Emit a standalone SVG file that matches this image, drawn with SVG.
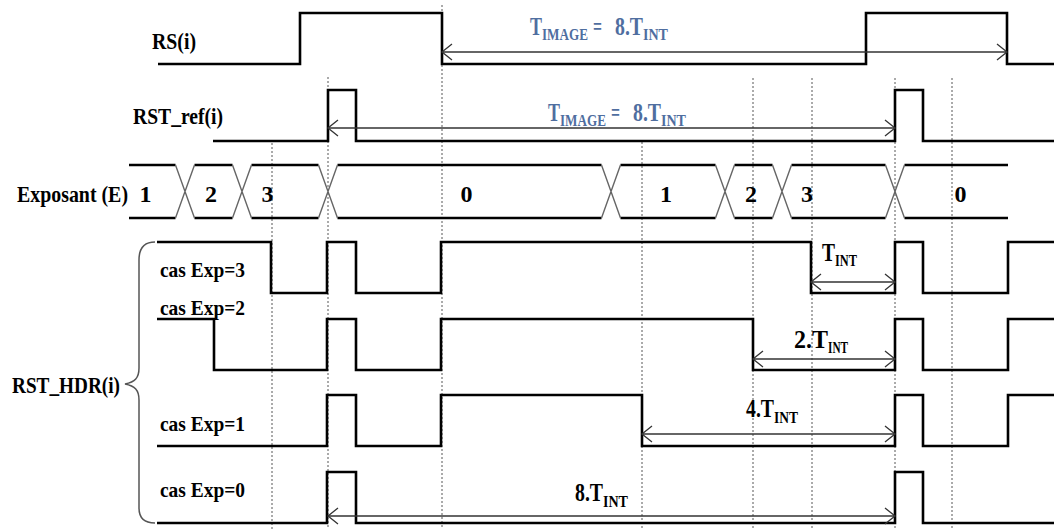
<svg xmlns="http://www.w3.org/2000/svg" width="1054" height="529" viewBox="0 0 1054 529">
<defs>
<style>
.sig{fill:none;stroke:#000;stroke-width:2.6;stroke-linejoin:miter}
.x{fill:none;stroke:#666;stroke-width:1.4}
.dot{fill:none;stroke:#444;stroke-width:0.9;stroke-dasharray:2 2}
.dim{fill:none;stroke:#333;stroke-width:1.3;marker-start:url(#chev);marker-end:url(#chev)}
.brace{fill:none;stroke:#555;stroke-width:1.5}
text{font-family:"Liberation Serif","Times New Roman",serif;font-weight:bold;fill:#000}
.lbl{font-size:24px}
.cas{font-size:22px}
.blue{fill:#4f6ea0;font-size:25px}
.blue .sub{font-size:17px}
.dl{font-size:25px}
.dl .sub{font-size:17px}
</style>
<marker id="chev" viewBox="-12 -10 14 20" refX="0" refY="0" markerWidth="14" markerHeight="20" markerUnits="userSpaceOnUse" orient="auto-start-reverse">
<path d="M-10,-8 L0,0 L-10,8" fill="none" stroke="#333" stroke-width="1.3"/>
</marker>
</defs>
<rect width="1054" height="529" fill="#fff"/>

<g id="gridlines">
<line class="dot" x1="272" y1="143" x2="272" y2="529"/>
<line class="dot" x1="328" y1="77" x2="328" y2="529"/>
<line class="dot" x1="442" y1="5" x2="442" y2="529"/>
<line class="dot" x1="642" y1="142" x2="642" y2="529"/>
<line class="dot" x1="753" y1="78" x2="753" y2="529"/>
<line class="dot" x1="812" y1="78" x2="812" y2="529"/>
<line class="dot" x1="895" y1="78" x2="895" y2="529"/>
<line class="dot" x1="952" y1="78" x2="952" y2="529"/>
</g>

<g id="RS">
<text class="lbl" x="152" y="49" textLength="44" lengthAdjust="spacingAndGlyphs">RS(i)</text>
<polyline class="sig" points="158,64 300,64 300,13 442,13 442,64 866,64 866,13 1007,13 1007,64 1054,64"/>
</g>

<g id="RST_ref">
<text class="lbl" x="133" y="124" textLength="90" lengthAdjust="spacingAndGlyphs">RST_ref(i)</text>
<polyline class="sig" points="213,141 328,141 328,90 356,90 356,141 895,141 895,90 923,90 923,141 1054,141"/>
</g>

<g id="Exposant">
<text class="lbl" x="17" y="202" textLength="111" lengthAdjust="spacingAndGlyphs">Exposant (E)</text>
<path class="sig" d="M129,165H175.5M194.5,165H232.5M251.5,165H318.5M337.5,165H601.5M620.5,165H715.5M734.5,165H772.5M791.5,165H885.5M904.5,165H1008
M129,218H175.5M194.5,218H232.5M251.5,218H318.5M337.5,218H601.5M620.5,218H715.5M734.5,218H772.5M791.5,218H885.5M904.5,218H1008"/>
<path class="x" d="M175.5,165L194.5,218M175.5,218L194.5,165M232.5,165L251.5,218M232.5,218L251.5,165M318.5,165L337.5,218M318.5,218L337.5,165M601.5,165L620.5,218M601.5,218L620.5,165M715.5,165L734.5,218M715.5,218L734.5,165M772.5,165L791.5,218M772.5,218L791.5,165M885.5,165L904.5,218M885.5,218L904.5,165"/>
<g class="lbl" text-anchor="middle">
<text x="145.5" y="202">1</text>
<text x="211" y="202">2</text>
<text x="267.5" y="202">3</text>
<text x="466.5" y="202">0</text>
<text x="666" y="202">1</text>
<text x="751" y="202">2</text>
<text x="807" y="202">3</text>
<text x="960.5" y="202">0</text>
</g>
</g>

<g id="RST_HDR">
<text class="lbl" x="12" y="393" textLength="108" lengthAdjust="spacingAndGlyphs">RST_HDR(i)</text>
<path class="brace" d="M155,242 C144,242 139,248 139,260 L139,368 C139,378 135,382 125,384 C135,386 139,390 139,400 L139,508 C139,518 144,523 155,523"/>
</g>

<g id="cas3">
<text class="cas" x="160" y="277" textLength="85" lengthAdjust="spacingAndGlyphs">cas Exp=3</text>
<polyline class="sig" points="157,242 271,242 271,293 327,293 327,242 356,242 356,293 441,293 441,242 811,242 811,293 895,293 895,242 923,242 923,293 1008,293 1008,242 1054,242"/>
</g>

<g id="cas2">
<text class="cas" x="160" y="315" textLength="85" lengthAdjust="spacingAndGlyphs">cas Exp=2</text>
<polyline class="sig" points="157,319 214,319 214,370 327,370 327,319 356,319 356,370 441,370 441,319 753,319 753,370 895,370 895,319 923,319 923,370 1008,370 1008,319 1054,319"/>
</g>

<g id="cas1">
<text class="cas" x="160" y="431" textLength="85" lengthAdjust="spacingAndGlyphs">cas Exp=1</text>
<polyline class="sig" points="157,446 327,446 327,395 356,395 356,446 441,446 441,395 642,395 642,446 895,446 895,395 923,395 923,446 1008,446 1008,395 1054,395"/>
</g>

<g id="cas0">
<text class="cas" x="160" y="497" textLength="85" lengthAdjust="spacingAndGlyphs">cas Exp=0</text>
<polyline class="sig" points="157,523 327,523 327,472 356,472 356,523 895,523 895,472 923,472 923,523 1054,523"/>
</g>

<g id="connectors">
<line class="dim" x1="442" y1="52" x2="1007" y2="52"/>
<line class="dim" x1="328" y1="128" x2="895" y2="128"/>
<line class="dim" x1="811" y1="282" x2="895" y2="282"/>
<line class="dim" x1="753" y1="359" x2="895" y2="359"/>
<line class="dim" x1="642" y1="434" x2="895" y2="434"/>
<line class="dim" x1="328" y1="516" x2="895" y2="516"/>
</g>

<g id="labels">
<text class="blue" y="35"><tspan x="530" textLength="12" lengthAdjust="spacingAndGlyphs">T</tspan><tspan class="sub" x="542" y="40" textLength="46" lengthAdjust="spacingAndGlyphs">IMAGE</tspan><tspan x="593" y="35" textLength="9" lengthAdjust="spacingAndGlyphs">=</tspan><tspan x="615" y="35" textLength="28" lengthAdjust="spacingAndGlyphs">8.T</tspan><tspan class="sub" x="643" y="40" textLength="25" lengthAdjust="spacingAndGlyphs">INT</tspan></text>
<text class="blue" y="121"><tspan x="548" textLength="12" lengthAdjust="spacingAndGlyphs">T</tspan><tspan class="sub" x="560" y="126" textLength="46" lengthAdjust="spacingAndGlyphs">IMAGE</tspan><tspan x="611" y="121" textLength="9" lengthAdjust="spacingAndGlyphs">=</tspan><tspan x="633" y="121" textLength="28" lengthAdjust="spacingAndGlyphs">8.T</tspan><tspan class="sub" x="661" y="126" textLength="25" lengthAdjust="spacingAndGlyphs">INT</tspan></text>
<text class="dl" y="261"><tspan x="822" textLength="13" lengthAdjust="spacingAndGlyphs">T</tspan><tspan class="sub" x="835" y="266" textLength="22" lengthAdjust="spacingAndGlyphs">INT</tspan></text>
<text class="dl" y="348"><tspan x="794" textLength="34" lengthAdjust="spacingAndGlyphs">2.T</tspan><tspan class="sub" x="828" y="353" textLength="20" lengthAdjust="spacingAndGlyphs">INT</tspan></text>
<text class="dl" y="417"><tspan x="746" textLength="28" lengthAdjust="spacingAndGlyphs">4.T</tspan><tspan class="sub" x="774" y="423" textLength="24" lengthAdjust="spacingAndGlyphs">INT</tspan></text>
<text class="dl" y="501"><tspan x="575" textLength="28" lengthAdjust="spacingAndGlyphs">8.T</tspan><tspan class="sub" x="603" y="507" textLength="25" lengthAdjust="spacingAndGlyphs">INT</tspan></text>
</g>
</svg>
